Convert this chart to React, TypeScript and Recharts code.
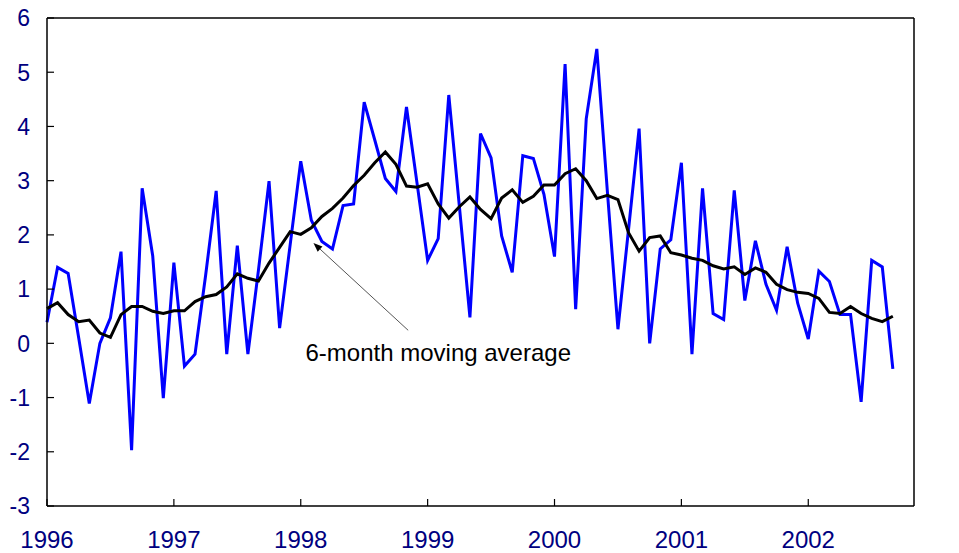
import React from "react";
import { LineChart, Line, XAxis, YAxis, ReferenceLine, ReferenceDot } from "recharts";

// monthly, Jan 1996 .. Sep 2002
const START_YEAR = 1996;
const YEAR_LABELS = ["1996", "1997", "1998", "1999", "2000", "2001", "2002"];
const Y_TICKS = [-3, -2, -1, 0, 1, 2, 3, 4, 5, 6];

const MONTHLY = [
  0.39, 1.4, 1.29, 0.1, -1.11, 0.0, 0.47, 1.69, -1.97, 2.86, 1.61, -1.01,
  1.49, -0.42, -0.2, 1.25, 2.81, -0.2, 1.8, -0.2, 1.35, 2.99, 0.28, 1.82,
  3.36, 2.27, 1.88, 1.74, 2.54, 2.57, 4.45, 3.75, 3.04, 2.8, 4.36, 2.95,
  1.53, 1.93, 4.58, 2.53, 0.48, 3.87, 3.42, 1.98, 1.31, 3.46, 3.41, 2.75,
  1.6, 5.15, 0.63, 4.14, 5.43, 2.8, 0.26, 2.1, 3.96, 0.0, 1.74, 1.91,
  3.33, -0.2, 2.86, 0.55, 0.44, 2.82, 0.79, 1.89, 1.09, 0.61, 1.78, 0.74,
  0.08, 1.33, 1.14, 0.53, 0.53, -1.08, 1.53, 1.41, -0.47,
];

const MOVING_AVG = [
  0.64, 0.75, 0.53, 0.4, 0.43, 0.19, 0.11, 0.53, 0.68, 0.68, 0.59, 0.55,
  0.6, 0.6, 0.77, 0.86, 0.9, 1.04, 1.28, 1.2, 1.15, 1.48, 1.77, 2.06,
  2.01, 2.13, 2.34, 2.49, 2.68, 2.91, 3.1, 3.33, 3.53, 3.3, 2.9, 2.88,
  2.94, 2.57, 2.31, 2.52, 2.7, 2.47, 2.3, 2.68, 2.83, 2.6, 2.71, 2.92,
  2.92, 3.13, 3.22, 3.0, 2.67, 2.73, 2.65, 2.04, 1.7, 1.95, 1.98, 1.67,
  1.63, 1.57, 1.53, 1.43, 1.37, 1.41, 1.27, 1.39, 1.31, 1.09, 0.99, 0.94,
  0.92, 0.83, 0.57, 0.55, 0.68, 0.55, 0.46, 0.4, 0.5,
];

const data = MONTHLY.map((v, i) => ({ m: i, value: v, avg: MOVING_AVG[i] }));

const FONT = "'Liberation Sans', Arial, sans-serif";
const NAVY = "#000080";
const TICK_LEN = 7;
const LEFT_GAP = 17;
const RIGHT_GAP = 18;
const BOTTOM_GAP = 25;

const LeftTick = (props: any) => {
  const { x, y, payload } = props;
  const ax = x + LEFT_GAP;
  return (
    <g>
      <line x1={ax} y1={y} x2={ax + TICK_LEN} y2={y} stroke="#000" strokeWidth={1.2} />
      <text x={x} y={y} dy="0.36em" textAnchor="end" fontSize={23} fill={NAVY} fontFamily={FONT}>
        {payload.value}
      </text>
    </g>
  );
};

const RightTick = (props: any) => {
  const { x, y, payload } = props;
  const ax = x - RIGHT_GAP;
  return (
    <g>
      <line x1={ax} y1={y} x2={ax - TICK_LEN} y2={y} stroke="#000" strokeWidth={1.2} />
      <text x={x} y={y} dy="0.36em" textAnchor="start" fontSize={23} fill={NAVY} fontFamily={FONT}>
        {payload.value}
      </text>
    </g>
  );
};

const BottomTick = (props: any) => {
  const { x, y, payload } = props;
  const ay = y - BOTTOM_GAP;
  return (
    <g>
      <line x1={x} y1={ay} x2={x} y2={ay - TICK_LEN} stroke="#000" strokeWidth={1.2} />
      <text x={x} y={y} dy="0.72em" textAnchor="middle" fontSize={24} fill={NAVY} fontFamily={FONT}>
        {YEAR_LABELS[Math.round(payload.value / 12)] ?? String(START_YEAR + payload.value / 12)}
      </text>
    </g>
  );
};

const ArrowShape = (props: any) => {
  const { x1, y1, x2, y2 } = props;
  // arrow head at (x2, y2)
  const dx = x2 - x1;
  const dy = y2 - y1;
  const len = Math.sqrt(dx * dx + dy * dy) || 1;
  const ux = dx / len;
  const uy = dy / len;
  const hl = 9;
  const hw = 3.5;
  const bx = x2 - ux * hl;
  const by = y2 - uy * hl;
  return (
    <g>
      <line x1={x1} y1={y1} x2={bx} y2={by} stroke="#555" strokeWidth={1} />
      <polygon
        points={`${x2},${y2} ${bx - uy * hw},${by + ux * hw} ${bx + uy * hw},${by - ux * hw}`}
        fill="#000"
      />
    </g>
  );
};

const LabelShape = (props: any) => {
  const { cx, cy } = props;
  return (
    <text x={cx} y={cy} dy="0.36em" fontSize={24} fill="#000" fontFamily={FONT}>
      6-month moving average
    </text>
  );
};

export default function App() {
  return (
    <div style={{ position: "absolute", left: 0, top: 0, background: "#fff" }}>
      <LineChart width={959} height={553} data={data} margin={{ top: 18, right: 0, bottom: 0, left: 0 }}>
        <XAxis
          dataKey="m"
          type="number"
          domain={[0, 82]}
          ticks={YEAR_LABELS.map((_, i) => i * 12)}
          height={47}
          tickSize={0}
          tickMargin={BOTTOM_GAP}
          tickLine={false}
          axisLine={{ stroke: "#000", strokeWidth: 1.5 }}
          tick={<BottomTick />}
          interval={0}
        />
        <YAxis
          yAxisId="left"
          type="number"
          domain={[-3, 6]}
          ticks={Y_TICKS}
          width={47}
          tickSize={0}
          tickMargin={LEFT_GAP}
          tickLine={false}
          axisLine={{ stroke: "#000", strokeWidth: 1.5 }}
          tick={<LeftTick />}
          interval={0}
        />
        <YAxis
          yAxisId="right"
          orientation="right"
          type="number"
          domain={[-3, 6]}
          ticks={Y_TICKS}
          width={45}
          tickSize={0}
          tickMargin={RIGHT_GAP}
          tickLine={false}
          axisLine={{ stroke: "#000", strokeWidth: 1.5 }}
          tick={<RightTick />}
          interval={0}
        />
        <ReferenceLine yAxisId="left" y={6} stroke="#000" strokeWidth={1.5} />
        <Line
          yAxisId="left"
          type="linear"
          dataKey="value"
          stroke="#0000ff"
          strokeWidth={3}
          dot={false}
          isAnimationActive={false}
        />
        <Line
          yAxisId="left"
          type="linear"
          dataKey="avg"
          stroke="#000"
          strokeWidth={3}
          dot={false}
          isAnimationActive={false}
        />
        <ReferenceLine
          yAxisId="left"
          segment={[
            { x: 34.16, y: 0.24 },
            { x: 25.2, y: 1.85 },
          ]}
          shape={<ArrowShape />}
        />
        <ReferenceDot yAxisId="left" x={24.45} y={-0.17} r={0} shape={<LabelShape />} />
      </LineChart>
    </div>
  );
}
